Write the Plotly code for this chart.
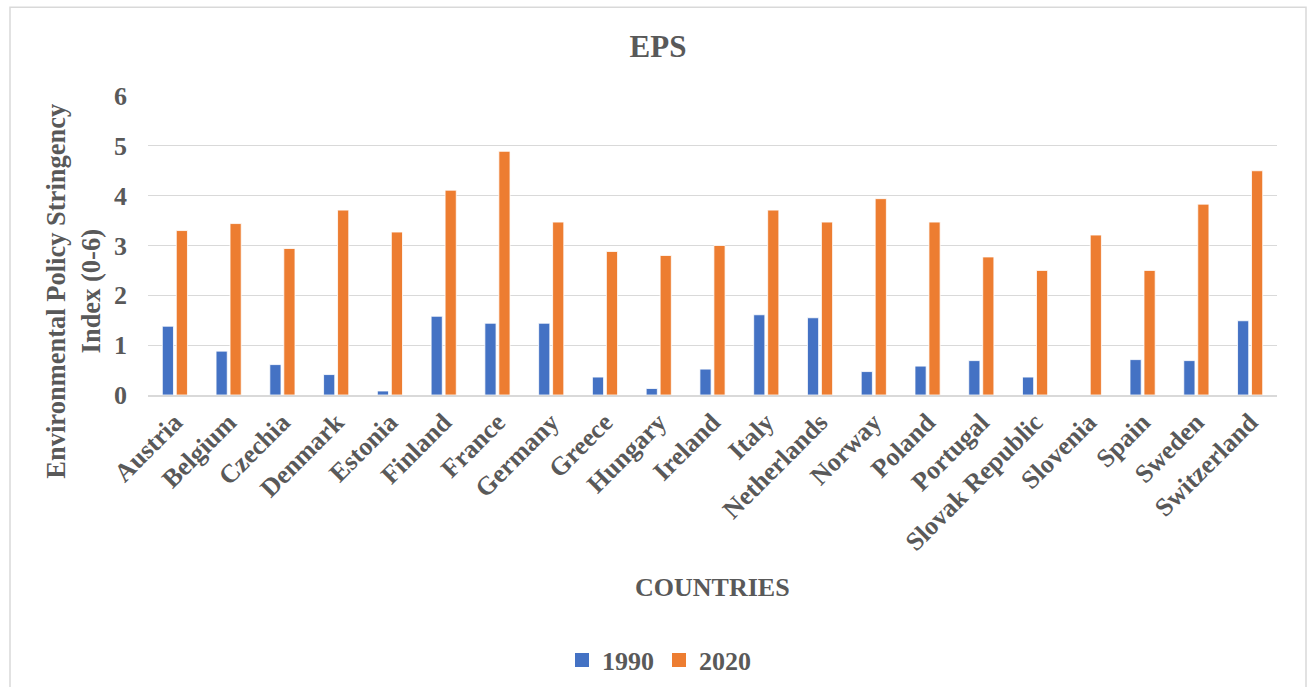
import plotly.graph_objects as go

countries = ["Austria", "Belgium", "Czechia", "Denmark", "Estonia", "Finland", "France",
             "Germany", "Greece", "Hungary", "Ireland", "Italy", "Netherlands", "Norway",
             "Poland", "Portugal", "Slovak Republic", "Slovenia", "Spain", "Sweden", "Switzerland"]
eps_1990 = [1.38, 0.88, 0.61, 0.41, 0.08, 1.58, 1.44, 1.44, 0.36, 0.13, 0.52, 1.61, 1.55,
            0.47, 0.58, 0.69, 0.36, 0.0, 0.71, 0.69, 1.49]
eps_2020 = [3.30, 3.44, 2.94, 3.71, 3.27, 4.11, 4.89, 3.47, 2.88, 2.80, 3.00, 3.71, 3.47,
            3.94, 3.47, 2.77, 2.50, 3.21, 2.50, 3.83, 4.50]
y_ticks = [0, 1, 2, 3, 4, 5, 6]
series_names = ["1990", "2020"]
series_colors = ["#4472C4", "#ED7D31"]

FONT = "Liberation Serif"
TXT = "#595959"
GRID = "#D9D9D9"

W, H = 1309, 687
L, R, T, B = 148, 32, 96, 291.5
pw = W - L - R
ph = H - T - B

def px_x(x):
    return (x - L) / pw

def px_y(y):
    return (H - B - y) / ph

fig = go.Figure()
for name, vals, col in zip(series_names, [eps_1990, eps_2020], series_colors):
    fig.add_trace(go.Bar(x=countries, y=vals, name=name, showlegend=False,
                         marker=dict(color=col, line=dict(color="white", width=0.8))))
# legend entries with larger square swatches
for name, col in zip(series_names, series_colors):
    fig.add_trace(go.Scatter(x=[None], y=[None], mode="markers", name=name,
                             marker=dict(symbol="square", size=14, color=col)))

fig.update_layout(
    width=W, height=H,
    margin=dict(l=L, r=R, t=T, b=B),
    paper_bgcolor="white", plot_bgcolor="white",
    barmode="group", bargap=0.48, bargroupgap=0.2,
    font=dict(family=FONT, color=TXT, size=26),
    title=dict(text="<b>EPS</b>", x=658 / W, xref="container", xanchor="center",
               y=1 - 46 / H, yref="container", yanchor="middle",
               font=dict(family=FONT, size=31, color=TXT)),
    legend=dict(orientation="h", xref="container", yref="container",
                x=659 / W, xanchor="center", y=1 - 660 / H, yanchor="middle",
                font=dict(family=FONT, size=26, color=TXT, weight="bold"),
                itemwidth=30, traceorder="normal", tracegroupgap=0),
    xaxis=dict(tickangle=-45, tickfont=dict(family=FONT, size=26, color=TXT, weight="bold"),
               showline=True, linecolor=GRID, linewidth=1.5, showgrid=False,
               ticks=""),
    yaxis=dict(range=[0, 6], tickvals=y_ticks, showgrid=True, gridcolor=GRID, gridwidth=1.3,
               zeroline=False, showline=False, ticks="",
               ticklabelstandoff=20,
               tickfont=dict(family=FONT, size=26, color=TXT, weight="bold")),
    annotations=[
        dict(text="<b>Environmental Policy Stringency<br>Index (0-6)</b>", textangle=-90,
             xref="paper", yref="paper", x=px_x(73), y=px_y(292),
             xanchor="center", yanchor="middle", showarrow=False,
             font=dict(family=FONT, size=26.5, color=TXT)),
        dict(text="<b>COUNTRIES</b>", xref="paper", yref="paper",
             x=px_x(712), y=px_y(588), xanchor="center", yanchor="middle",
             showarrow=False, font=dict(family=FONT, size=26, color=TXT)),
    ],
    shapes=[dict(type="rect", xref="paper", yref="paper",
                 x0=px_x(10), x1=px_x(1306), y0=px_y(700), y1=px_y(7),
                 line=dict(color=GRID, width=1.5), fillcolor="rgba(0,0,0,0)", layer="below")],
)

fig.write_html("out.html")
